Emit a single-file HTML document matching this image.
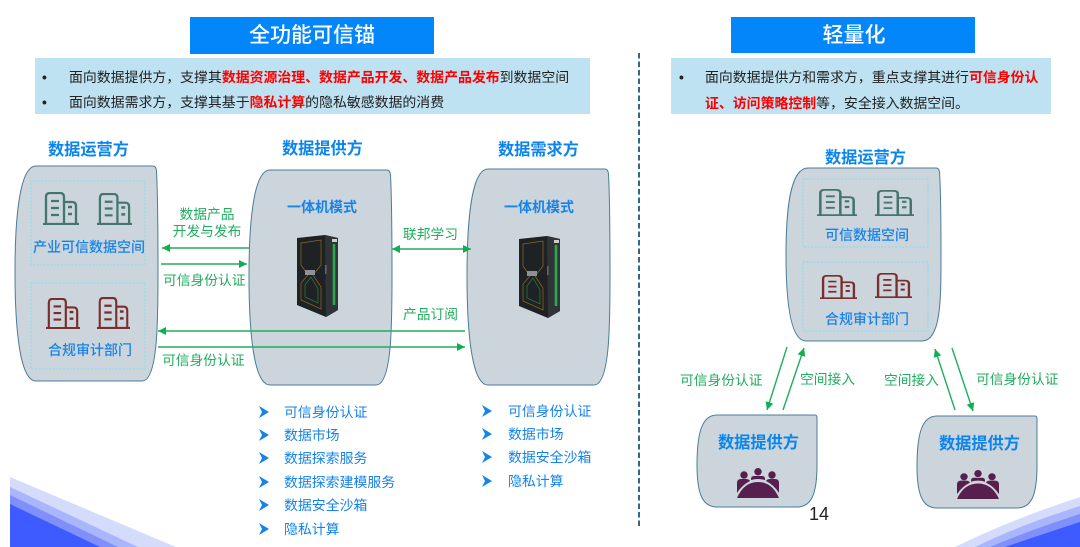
<!DOCTYPE html>
<html lang="zh">
<head>
<meta charset="utf-8">
<title>全功能可信锚与轻量化</title>
<style>
html,body{margin:0;padding:0;background:#fff;width:1080px;height:547px;overflow:hidden}
svg{display:block;filter:blur(.35px)}
text{font-family:"Liberation Sans","Noto Sans CJK SC",sans-serif;font-size:14px}
.title{fill:#fff;font-size:21px;text-anchor:middle;font-weight:500}
.k{fill:#222;font-size:13.9px}
.r{fill:#f00;font-weight:700}
.h{fill:#0a84ee;font-size:16.2px;font-weight:700}
.b{fill:#1583ea;font-size:13.9px}
.bb{fill:#1583ea;font-weight:500}
.bo{fill:#1583ea;font-weight:700}
.g{fill:#20ad5e;font-size:13.75px}
.shape{fill:#ccd5db;stroke:#4a7c98;stroke-width:1}
.dash{fill:none;stroke:#8fdcf0;stroke-width:1.2;stroke-dasharray:2 1.5}
.ln{stroke:#20ad5e;stroke-width:1.4;fill:none}
</style>
</head>
<body>
<svg width="1080" height="547" viewBox="0 0 1080 547" xmlns="http://www.w3.org/2000/svg">
<defs>
  <marker id="ah" markerUnits="userSpaceOnUse" markerWidth="10" markerHeight="10" refX="8" refY="5" orient="auto-start-reverse">
    <path d="M0 1 L8 5 L0 9 Z" fill="#0fae55"/>
  </marker>
  <symbol id="bld" viewBox="0 0 36 33" preserveAspectRatio="none">
    <g fill="none" stroke="currentColor" stroke-width="2.3">
      <path d="M0 32 H36"/>
      <path d="M3 32 V5 Q3 1 7 1 H17 Q21 1 21 5 V32"/>
      <path d="M21 10 H29 Q33 10 33 14 V32"/>
      <path d="M8 9 H16 M8 16 H16 M8 23 H16"/>
      <path d="M25 15 H29 M25 22 H29" stroke-width="2.6"/>
    </g>
  </symbol>
  <symbol id="ppl" viewBox="0 0 42 30" preserveAspectRatio="none">
    <g fill="#571f4e">
      <circle cx="7" cy="7" r="3.7"/><circle cx="21" cy="3.7" r="3.7"/><circle cx="35" cy="7" r="3.7"/>
      <path d="M0 25 V15 Q0 11 4 11 H9 Q12 11 13 13 Q5 17 0 25 Z"/>
      <path d="M42 25 V15 Q42 11 38 11 H33 Q30 11 29 13 Q37 17 42 25 Z"/>
      <path d="M14 12 V11 Q14 8 17 8 H25 Q28 8 28 11 V12 Q21 10 14 12 Z"/>
      <path d="M0 30 Q7 14 21 14 Q35 14 42 30 Z"/>
    </g>
  </symbol>
  <symbol id="cab" viewBox="0 0 45 83" preserveAspectRatio="none">
    <path d="M2 3 L30 0 L43 3 V75 L31 82 L2 70 Z" fill="#1f2224"/>
    <path d="M30 0 L43 3 V75 L31 82 Z" fill="#303436"/>
    <path d="M39 9 V70" stroke="#2ca94f" stroke-width="2.6"/>
    <path d="M6 8 L26 5 V30 L18 40 L26 52 V74 L6 65 V48 L13 40 L6 30 Z" fill="none" stroke="#8f6a1f" stroke-width=".7"/>
    <path d="M10 50 L16 42 L23 54 V68 L10 62 Z" fill="none" stroke="#2c7c3c" stroke-width=".7"/>
    <rect x="10" y="35" width="10" height="5" fill="#8d9395"/>
    <rect x="37" y="4" width="5" height="3" fill="#c9cdcf"/>
    <rect x="30" y="30" width="1.6" height="9" fill="#666"/>
  </symbol>
  <symbol id="chev" viewBox="0 0 10 12" preserveAspectRatio="none">
    <path d="M0 0 L10 6 L0 12 L3 6 Z" fill="#1583ea"/>
  </symbol>
</defs>

<!-- corners -->
<path d="M10 477 L176 547 H10 Z" fill="#d5dcfb"/>
<path d="M10 487 L138 547 H10 Z" fill="#a9b6fb"/>
<path d="M10 495 L118 547 H10 Z" fill="#7f90fb"/>
<path d="M10 504 L100 547 H10 Z" fill="#3d5bff"/>
<path d="M1080 497 Q1010 520 955 547 H1080 Z" fill="#d5dcfb"/>
<path d="M1080 506 Q1020 525 975 547 H1080 Z" fill="#a9b6fb"/>
<path d="M1080 514 Q1030 530 990 547 H1080 Z" fill="#7f90fb"/>
<path d="M1080 522 Q1040 535 1005 547 H1080 Z" fill="#3d5bff"/>

<!-- titles -->
<rect x="190" y="17" width="244" height="37" fill="#0486fb"/>
<text class="title" x="312" y="42">全功能可信锚</text>
<rect x="731" y="17" width="244" height="36" fill="#0486fb"/>
<text class="title" x="854" y="42">轻量化</text>

<!-- info boxes -->
<rect x="35" y="58" width="555" height="56" fill="#bfe2f2"/>
<text class="k" x="42" y="82" style="font-weight:700">•</text>
<text class="k" x="69" y="82">面向数据提供方，支撑其<tspan class="r">数据资源治理、数据产品开发、数据产品发布</tspan>到数据空间</text>
<text class="k" x="42" y="107" style="font-weight:700">•</text>
<text class="k" x="69" y="107">面向数据需求方，支撑其基于<tspan class="r">隐私计算</tspan>的隐私敏感数据的消费</text>

<rect x="671" y="58" width="380" height="56" fill="#bfe2f2"/>
<text class="k" x="679" y="82" style="font-weight:700">•</text>
<text class="k" x="705" y="82">面向数据提供方和需求方，重点支撑其进行<tspan class="r">可信身份认</tspan></text>
<text class="k" x="705" y="108"><tspan class="r">证、访问策略控制</tspan>等，安全接入数据空间。</text>

<!-- divider -->
<line x1="639" y1="53" x2="639" y2="528" stroke="#2f6a8e" stroke-width="2" stroke-dasharray="5.5 3"/>

<!-- headings -->
<text class="h" x="48" y="155">数据运营方</text>
<text class="h" x="282" y="154">数据提供方</text>
<text class="h" x="498" y="155">数据需求方</text>
<text class="h" x="825" y="163">数据运营方</text>

<!-- left shapes -->
<path class="shape" d="M36 166 H153 Q156 166 156.500 171 C158 200 158 240 158 272 C158 320 158 381 142 381 H36 C20 381 15 330 15 272 C15 215 20 166 36 166 Z"/>
<path class="shape" d="M270 170 H387 Q390 170 390.500 175 C392 204 392 244 392 276 C392 324 392 385 376 385 H270 C254 385 249 334 249 276 C249 219 254 170 270 170 Z"/>
<path class="shape" d="M488 169 H605 Q608 169 608.500 174 C610 203 610 243 610 276 C610 324 610 385 594 385 H488 C472 385 467 334 467 276 C467 218 472 169 488 169 Z"/>

<rect class="dash" x="31" y="181" width="114" height="84"/>
<rect class="dash" x="31" y="283" width="114" height="86"/>
<use href="#bld" x="43" y="192" width="36" height="33" style="color:#44766b"/>
<use href="#bld" x="97" y="193" width="35" height="32" style="color:#44766b"/>
<use href="#bld" x="46" y="298" width="34" height="31" style="color:#7a2f2e"/>
<use href="#bld" x="97" y="297" width="33" height="32" style="color:#7a2f2e"/>
<text class="bb" x="33" y="252">产业可信数据空间</text>
<text class="bb" x="48" y="355">合规审计部门</text>

<text class="bo" x="287" y="212">一体机模式</text>
<text class="bo" x="504" y="212">一体机模式</text>
<use href="#cab" x="295" y="235" width="45" height="83"/>
<use href="#cab" x="517" y="236" width="45" height="83"/>

<!-- left connectors -->
<line class="ln" x1="249" y1="248" x2="162" y2="248" marker-end="url(#ah)"/>
<line class="ln" x1="161" y1="264" x2="247" y2="264" marker-end="url(#ah)"/>
<line class="ln" x1="465" y1="331" x2="158" y2="331" marker-end="url(#ah)"/>
<line class="ln" x1="158" y1="347" x2="465" y2="347" marker-end="url(#ah)"/>
<line class="ln" x1="392" y1="249" x2="471" y2="249" marker-start="url(#ah)" marker-end="url(#ah)"/>

<text class="g" x="207" y="219" text-anchor="middle">数据产品</text>
<text class="g" x="207" y="236" text-anchor="middle">开发与发布</text>
<text class="g" x="163" y="285">可信身份认证</text>
<text class="g" x="162" y="365">可信身份认证</text>
<text class="g" x="403" y="239">联邦学习</text>
<text class="g" x="403" y="319">产品订阅</text>

<!-- lists -->
<use href="#chev" x="259" y="406" width="10" height="12"/><text class="b" x="284" y="417">可信身份认证</text>
<use href="#chev" x="259" y="429" width="10" height="12"/><text class="b" x="284" y="440">数据市场</text>
<use href="#chev" x="259" y="452" width="10" height="12"/><text class="b" x="284" y="463">数据探索服务</text>
<use href="#chev" x="259" y="476" width="10" height="12"/><text class="b" x="284" y="487">数据探索建模服务</text>
<use href="#chev" x="259" y="499" width="10" height="12"/><text class="b" x="284" y="510">数据安全沙箱</text>
<use href="#chev" x="259" y="523" width="10" height="12"/><text class="b" x="284" y="534">隐私计算</text>

<use href="#chev" x="482" y="405" width="10" height="12"/><text class="b" x="508" y="416">可信身份认证</text>
<use href="#chev" x="482" y="428" width="10" height="12"/><text class="b" x="508" y="439">数据市场</text>
<use href="#chev" x="482" y="451" width="10" height="12"/><text class="b" x="508" y="462">数据安全沙箱</text>
<use href="#chev" x="482" y="475" width="10" height="12"/><text class="b" x="508" y="486">隐私计算</text>

<!-- right side -->
<path class="shape" d="M808 168 H936 Q939 168 939.500 172 C941 195 941 225 941 255 C941 300 941 341 922 341 H806 C790 341 786 300 786 255 C786 210 790 168 808 168 Z"/>
<rect class="dash" x="803" y="179" width="125" height="68"/>
<rect class="dash" x="803" y="262" width="125" height="69"/>
<use href="#bld" x="817" y="189" width="40" height="27" style="color:#44766b"/>
<use href="#bld" x="875" y="190" width="39" height="26" style="color:#44766b"/>
<use href="#bld" x="820" y="275" width="37" height="24" style="color:#7a2f2e"/>
<use href="#bld" x="875" y="273" width="37" height="25" style="color:#7a2f2e"/>
<text class="bb" x="825" y="240">可信数据空间</text>
<text class="bb" x="825" y="324">合规审计部门</text>

<line class="ln" x1="787" y1="347" x2="767" y2="410" marker-end="url(#ah)"/>
<line class="ln" x1="783" y1="410" x2="804" y2="348" marker-end="url(#ah)"/>
<line class="ln" x1="955" y1="410" x2="935" y2="349" marker-end="url(#ah)"/>
<line class="ln" x1="952" y1="348" x2="973" y2="411" marker-end="url(#ah)"/>

<text class="g" x="680" y="385">可信身份认证</text>
<text class="g" x="800" y="384">空间接入</text>
<text class="g" x="884" y="385">空间接入</text>
<text class="g" x="976" y="384">可信身份认证</text>

<path class="shape" d="M717 415 H815 Q817 415 817 418 V465 C817 495 811 507 797 507 H717 C703 507 697 495 697 465 C697 430 703 415 717 415 Z"/>
<path class="shape" d="M937 416 H1035 Q1037 416 1037 419 V466 C1037 496 1031 508 1017 508 H937 C923 508 917 496 917 466 C917 431 923 416 937 416 Z"/>
<text class="h" x="718" y="448">数据提供方</text>
<text class="h" x="939" y="449">数据提供方</text>
<use href="#ppl" x="737" y="468" width="42" height="30"/>
<use href="#ppl" x="957" y="470" width="42" height="29"/>

<text x="809" y="520" style="font-size:18px;fill:#222">14</text>
</svg>
</body>
</html>
